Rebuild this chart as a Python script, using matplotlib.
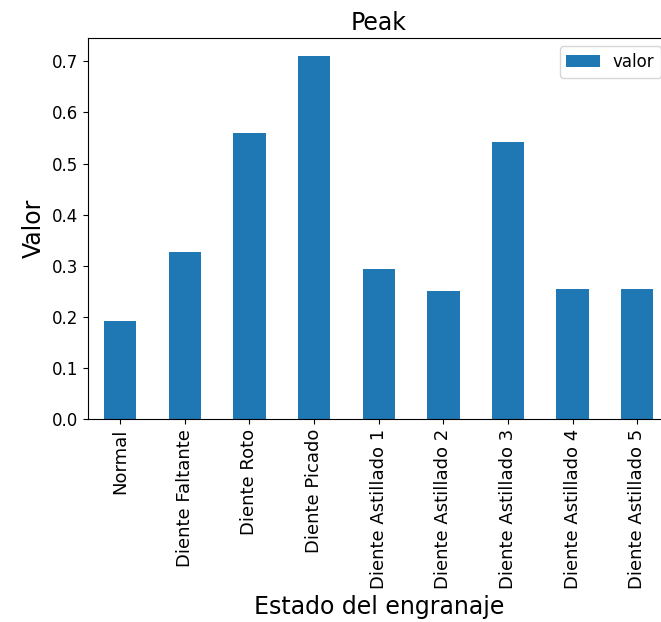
import matplotlib
matplotlib.use("Agg")
import matplotlib.pyplot as plt
import pandas as pd

estados = ["Normal", "Diente Faltante", "Diente Roto", "Diente Picado",
           "Diente Astillado 1", "Diente Astillado 2", "Diente Astillado 3",
           "Diente Astillado 4", "Diente Astillado 5"]
valores = [0.193, 0.326, 0.560, 0.710, 0.293, 0.251, 0.542, 0.255, 0.255]

df = pd.DataFrame({"valor": valores}, index=estados)

fig, ax = plt.subplots(figsize=(6.61, 6.22), dpi=100)
df.plot(kind="bar", ax=ax, color="#1f77b4")

ax.set_title("Peak", fontsize=17)
ax.set_ylabel("Valor", fontsize=17)
ax.set_xlabel("Estado del engranaje", fontsize=17)
ax.tick_params(axis="y", labelsize=12)
ax.tick_params(axis="x", labelsize=13)
ax.legend(fontsize=12, loc="upper right")

# the original image is cropped on the right, the axes run past the edge
fig.subplots_adjust(left=0.133, right=1.013, top=0.939, bottom=0.326)
fig.savefig("out.png", dpi=100)
